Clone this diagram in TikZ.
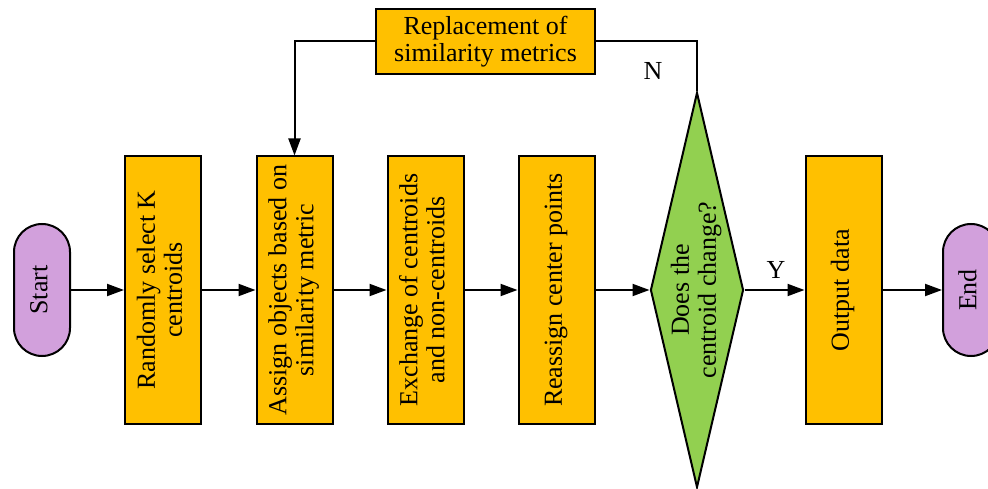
\documentclass[tikz,border=0pt]{standalone}
\usepackage{fontspec}
\setmainfont{Liberation Serif}
\usetikzlibrary{arrows.meta,shapes.geometric}
\definecolor{procfill}{HTML}{FFC000}
\definecolor{termfill}{HTML}{D2A0DC}
\definecolor{decfill}{HTML}{92D050}
\newcommand\vtext[1]{\rotatebox{90}{\begin{tabular}{@{}c@{}}#1\end{tabular}}}
\begin{document}
\begin{tikzpicture}[x=1pt,y=-1pt,
  every node/.style={font=\fontsize{26}{27}\selectfont},
  proc/.style={draw, line width=2pt, fill=procfill, minimum width=76pt, minimum height=267pt, inner sep=0pt},
  term/.style={draw, line width=2pt, fill=termfill, rounded corners=28pt, minimum width=56pt, minimum height=132pt, inner sep=0pt},
  decision/.style={draw, line width=2pt, fill=decfill, diamond, minimum width=93pt, minimum height=395pt, inner sep=0pt},
  flow/.style={line width=2pt, -{Triangle[length=17pt,width=12pt]}},
  plain/.style={line width=2pt}
]
\useasboundingbox (0,0) rectangle (988,489);

% terminals
\node[term] (start) at (42,290) {\vtext{Start}};
\node[term] (end) at (971,290) {\vtext{End}};

% process steps
\node[proc] (b1) at (163,290) {\vtext{Randomly select K\\centroids}};
\node[proc] (b2) at (294.5,290) {\vtext{Assign objects based on\\similarity metric}};
\node[proc] (b3) at (425.5,290) {\vtext{Exchange of centroids\\and non-centroids}};
\node[proc] (b4) at (556.5,290) {\vtext{Reassign center points}};
\node[proc] (out) at (843.5,290) {\vtext{Output data}};

% decision
\node[decision] (dec) at (697,290) {};
\node (dectext) at (dec.center) {\vtext{Does the\\centroid change?}};

% feedback step
\node[draw, line width=2pt, fill=procfill, minimum width=219pt, minimum height=65pt, inner sep=0pt, align=center]
  (repl) at (485.5,41.5) {Replacement of\\similarity metrics};

% main flow
\draw[flow] (start) -- (b1);
\draw[flow] (b1) -- (b2);
\draw[flow] (b2) -- (b3);
\draw[flow] (b3) -- (b4);
\draw[flow] (b4) -- (dec.west);
\draw[flow] (dec.east) -- (out);
\node (ylab) at (776,270) {Y};
\draw[flow] (out) -- (end);

% loop back
\draw[plain] (dec.north) -- (dec.north |- repl.east) -- (repl.east);
\draw[flow] (repl.west) -- (b2.north |- repl.west) -- (b2.north);
\node (nlab) at (653,71) {N};
\end{tikzpicture}
\end{document}
